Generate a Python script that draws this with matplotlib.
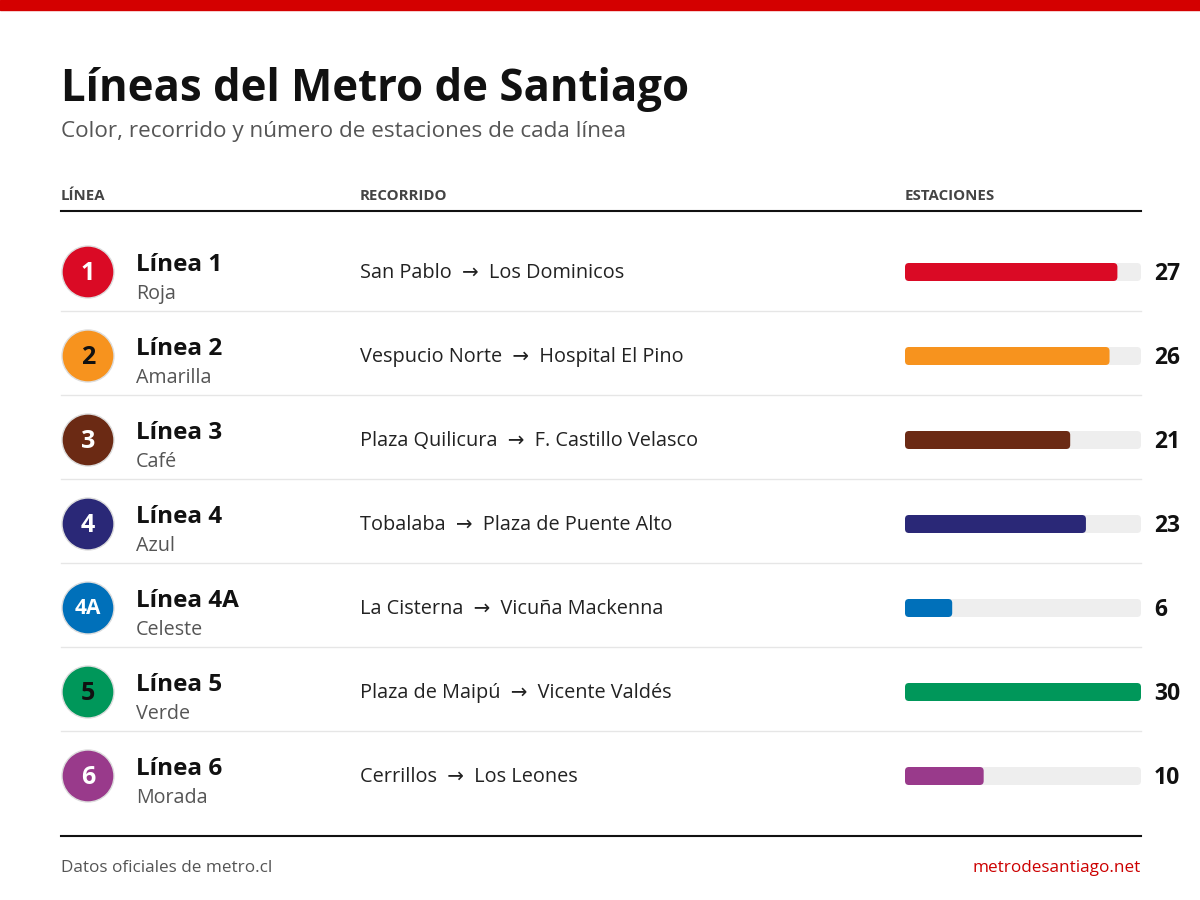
import matplotlib.pyplot as plt
from matplotlib.patches import Circle, FancyBboxPatch, Rectangle

plt.rcParams['font.family'] = ['Open Sans', 'DejaVu Sans']

# Data
badges = ["1", "2", "3", "4", "4A", "5", "6"]
names = ["Línea 1", "Línea 2", "Línea 3", "Línea 4", "Línea 4A", "Línea 5", "Línea 6"]
colour_names = ["Roja", "Amarilla", "Café", "Azul", "Celeste", "Verde", "Morada"]
origins = ["San Pablo", "Vespucio Norte", "Plaza Quilicura", "Tobalaba",
           "La Cisterna", "Plaza de Maipú", "Cerrillos"]
destinations = ["Los Dominicos", "Hospital El Pino", "F. Castillo Velasco",
                "Plaza de Puente Alto", "Vicuña Mackenna", "Vicente Valdés", "Los Leones"]
stations = [27, 26, 21, 23, 6, 30, 10]
line_colors = ["#DA0A25", "#F7931E", "#6B2A14", "#2A2877", "#0070BA", "#00975A", "#993A8B"]
badge_text = ["white", "#111111", "white", "white", "white", "#111111", "white"]
max_stations = 30

fig = plt.figure(figsize=(12, 9), dpi=100)
ax = fig.add_axes([0, 0, 1, 1])
ax.set_xlim(0, 1200)
ax.set_ylim(900, 0)
ax.axis("off")

ax.add_patch(Rectangle((0, 0), 1200, 10, color="#D40000"))
ax.text(61, 89, "Líneas del Metro de Santiago", fontsize=31.5, fontweight="bold",
        color="#111111", va="center")
ax.text(61, 131, "Color, recorrido y número de estaciones de cada línea", fontsize=16.2,
        color="#555555", va="center")

for x, h in [(61, "LÍNEA"), (360, "RECORRIDO"), (905, "ESTACIONES")]:
    ax.text(x, 196, h, fontsize=10.8, fontweight="bold", color="#444444", va="center")
ax.plot([61, 1141], [211, 211], color="#111111", lw=1.5)

track_x, track_w, row0, step = 905, 236, 272, 84
for i in range(len(names)):
    y = row0 + i * step
    ax.add_patch(Circle((88, y), 26, color=line_colors[i], ec="#dddddd", lw=1))
    ax.text(88, y + 1, badges[i], fontsize=18 if len(badges[i]) == 1 else 15,
            fontweight="bold", color=badge_text[i], ha="center", va="center")
    ax.text(136, y - 7, names[i], fontsize=17.5, fontweight="bold", color="#111111", va="center")
    ax.text(136, y + 22, colour_names[i], fontsize=14.2, color="#555555", va="center")
    ax.text(360, y + 1, f"{origins[i]}  →  {destinations[i]}", fontsize=14.3,
            color="#222222", va="center")
    ax.add_patch(FancyBboxPatch((track_x, y - 9), track_w, 18,
                                boxstyle="round,pad=0,rounding_size=4",
                                color="#EEEEEE", lw=0))
    ax.add_patch(FancyBboxPatch((track_x, y - 9), track_w * stations[i] / max_stations, 18,
                                boxstyle="round,pad=0,rounding_size=4",
                                color=line_colors[i], lw=0))
    ax.text(1154, y + 2, str(stations[i]), fontsize=16.5, fontweight="bold",
            color="#111111", va="center")
    if i < len(names) - 1:
        ax.plot([61, 1141], [y + 39, y + 39], color="#E6E6E6", lw=1)

ax.plot([61, 1141], [836, 836], color="#111111", lw=1.5)
ax.text(61, 868, "Datos oficiales de metro.cl", fontsize=12.3, color="#555555", va="center")
ax.text(1141, 868, "metrodesantiago.net", fontsize=12.3, color="#CC0000",
        va="center", ha="right")

fig.savefig("out.png", dpi=100, facecolor="white")
